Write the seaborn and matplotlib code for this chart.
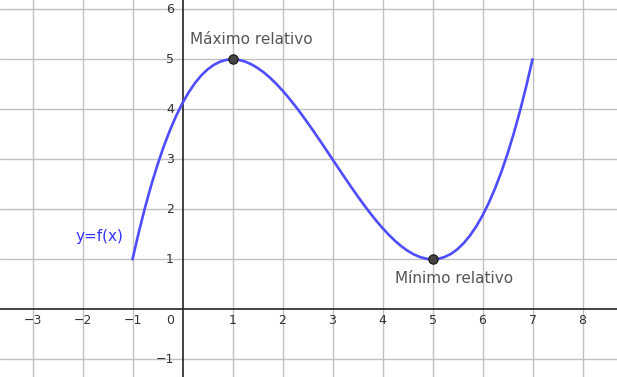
import matplotlib
matplotlib.use("Agg")
import matplotlib.pyplot as plt
import seaborn as sns

# Curve values
xs = [-1.0, -0.875, -0.75, -0.625, -0.5, -0.375, -0.25, -0.125,
      0.0, 0.125, 0.25, 0.375, 0.5, 0.625, 0.75, 0.875,
      1.0, 1.125, 1.25, 1.375, 1.5, 1.625, 1.75, 1.875,
      2.0, 2.125, 2.25, 2.375, 2.5, 2.625, 2.75, 2.875,
      3.0, 3.125, 3.25, 3.375, 3.5, 3.625, 3.75, 3.875,
      4.0, 4.125, 4.25, 4.375, 4.5, 4.625, 4.75, 4.875,
      5.0, 5.125, 5.25, 5.375, 5.5, 5.625, 5.75, 5.875,
      6.0, 6.125, 6.25, 6.375, 6.5, 6.625, 6.75, 6.875, 7.0]
ys = [1.0, 1.539, 2.033, 2.483, 2.891, 3.257, 3.584, 3.873,
      4.125, 4.342, 4.525, 4.677, 4.797, 4.888, 4.951, 4.988,
      5.0, 4.989, 4.955, 4.901, 4.828, 4.738, 4.631, 4.510,
      4.375, 4.229, 4.072, 3.907, 3.734, 3.556, 3.373, 3.187,
      3.0, 2.813, 2.627, 2.444, 2.266, 2.093, 1.928, 1.771,
      1.625, 1.491, 1.369, 1.263, 1.172, 1.099, 1.045, 1.012,
      1.0, 1.012, 1.049, 1.112, 1.203, 1.324, 1.475, 1.658,
      1.875, 2.127, 2.416, 2.743, 3.109, 3.517, 3.967, 4.461, 5.0]

# Extremum points
ext_x = [1, 5]
ext_y = [5, 1]
ext_labels = ["Máximo relativo", "Mínimo relativo"]

x_ticks = [-3, -2, -1, 1, 2, 3, 4, 5, 6, 7, 8]
y_ticks = [-1, 1, 2, 3, 4, 5, 6]

sns.set_theme(style="white")
plt.rcParams['font.family'] = ['DejaVu Sans']

fig = plt.figure(figsize=(6.17, 3.77), dpi=100)
ax = fig.add_axes([0, 0, 1, 1])
ax.set_xlim(-3.65, 8.69)
ax.set_ylim(-1.354, 6.186)

# grid
for t in x_ticks:
    ax.axvline(t, color="#c0c0c0", lw=1.0, zorder=0)
for t in y_ticks:
    ax.axhline(t, color="#c0c0c0", lw=1.0, zorder=0)
ax.axhline(0, color="#222222", lw=1.2, zorder=1)
ax.axvline(0, color="#222222", lw=1.2, zorder=1)

for s in ax.spines.values():
    s.set_visible(False)
ax.set_xticks([])
ax.set_yticks([])

# tick labels
for t in x_ticks:
    label = str(t).replace("-", "\u2212")
    ax.text(t, -0.22, label, ha="center", va="center", fontsize=9, color="#333333")
for t in y_ticks:
    label = str(t).replace("-", "\u2212")
    ax.text(-0.17, t, label, ha="right", va="center", fontsize=9, color="#333333")
ax.text(-0.17, -0.22, "0", ha="right", va="center", fontsize=9, color="#333333")

sns.lineplot(x=xs, y=ys, sort=False, estimator=None, color="#4d4dff", lw=1.9,
             ax=ax, zorder=3)
sns.scatterplot(x=ext_x, y=ext_y, color="#444444", edgecolor="#111111", s=45,
                linewidth=0.8, ax=ax, zorder=4)

ax.text(0.15, 5.4, ext_labels[0], ha="left", va="center", fontsize=11, color="#555555")
ax.text(4.25, 0.62, ext_labels[1], ha="left", va="center", fontsize=11, color="#555555")
ax.text(-2.15, 1.45, "y=f(x)", ha="left", va="center", fontsize=11, color="#3333ff")

fig.savefig("out.png", dpi=100)
